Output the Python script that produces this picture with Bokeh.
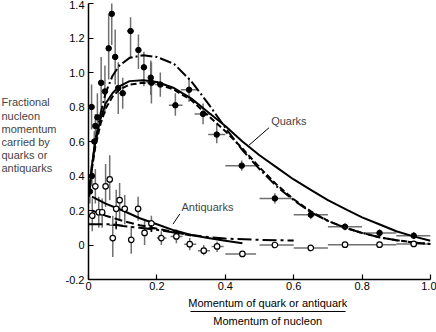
from bokeh.plotting import figure
from bokeh.models import ColumnDataSource, Label, FixedTicker, LinearAxis, Range1d
from bokeh.layouts import row
from bokeh.embed import file_html
from bokeh.resources import INLINE

# ---------------- data ----------------
x_ticks = [0, 0.2, 0.4, 0.6, 0.8, 1.0]
x_tick_labels = ["0", "0.2", "0.4", "0.6", "0.8", "1.0"]
y_ticks = [-0.2, 0, 0.2, 0.4, 0.6, 0.8, 1.0, 1.2, 1.4]
y_tick_labels = ["-0.2", "0", "0.2", "0.4", "0.6", "0.8", "1.0", "1.2", "1.4"]

# Quarks (filled points)
quark_x = [0.004, 0.010, 0.009, 0.017, 0.020, 0.026, 0.037, 0.048, 0.059, 0.068,
           0.078, 0.087, 0.100, 0.123, 0.146, 0.162, 0.182, 0.184, 0.210, 0.254,
           0.294, 0.335, 0.375, 0.448, 0.545, 0.650, 0.750, 0.851, 0.951]
quark_y = [0.31, 0.40, 0.80, 0.60, 0.69, 0.74, 0.94, 0.89, 1.14, 1.34,
           1.09, 0.91, 0.88, 1.24, 1.13, 1.03, 0.97, 0.94, 0.93, 0.81,
           0.90, 0.76, 0.64, 0.46, 0.27, 0.175, 0.106, 0.070, 0.054]
quark_ylo = [0.24, 0.34, 0.67, 0.54, 0.62, 0.62, 0.78, 0.76, 0.96, 1.16,
             0.93, 0.76, 0.79, 1.08, 1.02, 0.92, 0.87, 0.82, 0.86, 0.75,
             0.83, 0.70, 0.59, 0.43, 0.24, 0.15, 0.085, 0.05, 0.035]
quark_yhi = [0.38, 0.46, 0.93, 0.66, 0.76, 0.88, 1.09, 1.04, 1.34, 1.46,
             1.25, 1.06, 0.97, 1.32, 1.22, 1.12, 1.07, 1.06, 1.00, 0.88,
             0.97, 0.82, 0.70, 0.49, 0.30, 0.20, 0.125, 0.09, 0.075]
quark_xlo = [0.004, 0.010, 0.009, 0.017, 0.020, 0.026, 0.037, 0.048, 0.059, 0.068,
             0.078, 0.087, 0.090, 0.113, 0.146, 0.162, 0.182, 0.170, 0.195, 0.235,
             0.270, 0.310, 0.350, 0.400, 0.500, 0.600, 0.700, 0.800, 0.900]
quark_xhi = [0.004, 0.010, 0.009, 0.017, 0.020, 0.026, 0.037, 0.048, 0.059, 0.068,
             0.078, 0.087, 0.110, 0.133, 0.146, 0.162, 0.182, 0.198, 0.225, 0.275,
             0.320, 0.360, 0.400, 0.500, 0.600, 0.700, 0.800, 0.900, 1.000]

# Antiquarks (open points)
anti_x = [0.011, 0.020, 0.030, 0.040, 0.050, 0.062, 0.071, 0.081, 0.091, 0.106,
          0.125, 0.145, 0.164, 0.184, 0.213, 0.257, 0.296, 0.337, 0.376, 0.450,
          0.545, 0.650, 0.750, 0.851, 0.951]
anti_y = [0.17, 0.34, 0.19, 0.19, 0.34, 0.38, 0.04, 0.21, 0.26, 0.21,
          0.03, 0.21, 0.07, 0.125, 0.04, 0.05, 0.005, -0.033, -0.008, -0.052,
          0.0, -0.017, 0.002, 0.002, 0.006]
anti_ylo = [0.08, 0.24, 0.10, 0.10, 0.22, 0.26, -0.07, 0.10, 0.15, 0.12,
            -0.05, 0.14, 0.00, 0.08, 0.00, 0.01, -0.03, -0.06, -0.04, -0.06,
            -0.01, -0.03, -0.005, -0.005, 0.0]
anti_yhi = [0.27, 0.44, 0.28, 0.27, 0.47, 0.52, 0.17, 0.32, 0.36, 0.29,
            0.11, 0.28, 0.14, 0.17, 0.08, 0.09, 0.04, 0.00, 0.02, -0.044,
            0.01, -0.005, 0.01, 0.01, 0.014]
anti_xlo = [0.011, 0.020, 0.030, 0.040, 0.050, 0.062, 0.071, 0.081, 0.091, 0.106,
            0.125, 0.145, 0.164, 0.184, 0.200, 0.240, 0.280, 0.320, 0.360, 0.400,
            0.500, 0.600, 0.700, 0.800, 0.900]
anti_xhi = [0.011, 0.020, 0.030, 0.040, 0.050, 0.062, 0.071, 0.081, 0.091, 0.106,
            0.125, 0.145, 0.164, 0.184, 0.228, 0.275, 0.315, 0.355, 0.395, 0.490,
            0.600, 0.700, 0.800, 0.900, 1.000]

# Cross markers in the antiquark region
cross_x = [0.081, 0.184]
cross_y = [0.115, 0.096]
cross_xlo = [0.060, 0.170]
cross_xhi = [0.100, 0.200]
cross_ylo = [0.09, 0.075]
cross_yhi = [0.14, 0.118]

# Quark curves
qc_x = [0.0, 0.005, 0.01, 0.02, 0.035, 0.05, 0.07, 0.09, 0.12, 0.16, 0.2, 0.25,
        0.3, 0.35, 0.4, 0.45, 0.5, 0.55, 0.6, 0.65, 0.7, 0.75, 0.8, 0.85, 0.9,
        0.95, 1.0]
qc_solid = [0.28, 0.36, 0.46, 0.60, 0.73, 0.82, 0.88, 0.92, 0.95, 0.955, 0.945,
            0.91, 0.85, 0.77, 0.69, 0.60, 0.52, 0.45, 0.38, 0.32, 0.26, 0.21,
            0.16, 0.12, 0.08, 0.05, 0.025]
qc_dashed = [0.28, 0.35, 0.44, 0.57, 0.70, 0.79, 0.86, 0.90, 0.93, 0.94, 0.935,
             0.90, 0.84, 0.75, 0.66, 0.56, 0.45, 0.35, 0.265, 0.195, 0.14, 0.10,
             0.07, 0.045, 0.028, 0.015, 0.006]
qc_dashdot = [0.28, 0.36, 0.46, 0.60, 0.76, 0.88, 0.98, 1.04, 1.085, 1.10, 1.09,
              1.05, 0.95, 0.82, 0.68, 0.55, 0.44, 0.34, 0.26, 0.19, 0.14, 0.10,
              0.07, 0.045, 0.028, 0.015, 0.006]

# Antiquark curves
ac_solid_x = [0.01, 0.05, 0.1, 0.15, 0.2, 0.25, 0.3, 0.35, 0.4, 0.45]
ac_solid_y = [0.28, 0.24, 0.20, 0.155, 0.12, 0.085, 0.058, 0.04, 0.024, 0.01]
ac_dashed_x = [0.01, 0.05, 0.1, 0.15, 0.2, 0.25, 0.3]
ac_dashed_y = [0.20, 0.17, 0.14, 0.115, 0.095, 0.075, 0.055]
ac_dashdot_x = [0.0, 0.07, 0.1, 0.15, 0.2, 0.25, 0.3, 0.35, 0.4, 0.5, 0.6]
ac_dashdot_y = [0.12, 0.12, 0.11, 0.10, 0.088, 0.072, 0.058, 0.046, 0.037, 0.03, 0.026]

# Annotation pointers
quark_ptr = [(0.528, 0.68), (0.469, 0.578)]
anti_ptr = [(0.267, 0.18), (0.247, 0.121)]

left_lines = ["Fractional", "nucleon", "momentum", "carried by", "quarks or",
              "antiquarks"]
left_line_y = [0.828, 0.745, 0.670, 0.596, 0.519, 0.445]
x_label_top = "Momentum of quark or antiquark"
x_label_bottom = "Momentum of nucleon"
x_label_pos = 0.524
fraction_bounds = (0.298, 0.751)

FONT = "Liberation Sans"
W, H = 436, 332
LW = 62
TOP, BOTTOM = 3, 53

# ---------------- left text panel ----------------
left = figure(width=LW, height=H, x_range=Range1d(0, LW), y_range=Range1d(-0.2, 1.4),
              output_backend="svg", toolbar_location=None,
              min_border_left=0, min_border_right=0,
              min_border_top=TOP, min_border_bottom=BOTTOM)
left.axis.visible = False
left.grid.visible = False
left.outline_line_color = None
for t, yy in zip(left_lines, left_line_y):
    left.add_layout(Label(x=1, y=yy, text=t, text_font=FONT,
                          text_font_size="11px", text_baseline="middle"))

# ---------------- main figure ----------------
p = figure(width=W - LW, height=H, x_range=(0, 1.0), y_range=(-0.2, 1.4),
           output_backend="svg", toolbar_location=None,
           min_border_left=26, min_border_right=6, min_border_top=TOP,
           min_border_bottom=BOTTOM)
p.background_fill_color = "white"
p.border_fill_color = "white"
p.outline_line_color = None
p.grid.visible = False

for ax in (p.xaxis[0], p.yaxis[0]):
    ax.axis_line_width = 1.5
    ax.axis_line_color = "black"
    ax.major_tick_in = 5
    ax.major_tick_out = 0
    ax.minor_tick_line_color = None
    ax.major_tick_line_color = "black"
    ax.major_tick_line_width = 1.2
    ax.major_label_text_font = FONT
    ax.major_label_text_font_size = "11px"
    ax.major_label_text_color = "black"

p.xaxis.ticker = FixedTicker(ticks=x_ticks)
p.xaxis.major_label_overrides = {t: s for t, s in zip(x_ticks, x_tick_labels)}
p.xaxis.major_label_standoff = 2
p.yaxis.ticker = FixedTicker(ticks=y_ticks)
p.yaxis.major_label_overrides = {t: s for t, s in zip(y_ticks, y_tick_labels)}
p.yaxis.major_label_standoff = 4

# fraction-style axis title: upper text (no line), then line + lower text
ax_top = LinearAxis(ticker=FixedTicker(ticks=[x_label_pos]),
                    major_label_overrides={x_label_pos: x_label_top},
                    axis_line_color=None, major_tick_line_color=None,
                    major_tick_in=0, major_tick_out=0,
                    minor_tick_line_color=None, minor_tick_in=0, minor_tick_out=0,
                    major_label_standoff=4,
                    major_label_text_font=FONT, major_label_text_font_size="11px",
                    major_label_text_color="black")
ax_bot = LinearAxis(ticker=FixedTicker(ticks=[x_label_pos]), bounds=fraction_bounds,
                    major_label_overrides={x_label_pos: x_label_bottom},
                    axis_line_color="black", axis_line_width=1.2,
                    major_tick_line_color=None, major_tick_in=0, major_tick_out=0,
                    minor_tick_line_color=None, minor_tick_in=0, minor_tick_out=0,
                    major_label_standoff=3,
                    major_label_text_font=FONT, major_label_text_font_size="11px",
                    major_label_text_color="black")
p.add_layout(ax_top, "below")
p.add_layout(ax_bot, "below")

qsrc = ColumnDataSource(dict(x=quark_x, y=quark_y, ylo=quark_ylo, yhi=quark_yhi,
                             xlo=quark_xlo, xhi=quark_xhi))
asrc = ColumnDataSource(dict(x=anti_x, y=anti_y, ylo=anti_ylo, yhi=anti_yhi,
                             xlo=anti_xlo, xhi=anti_xhi))
csrc = ColumnDataSource(dict(x=cross_x, y=cross_y, ylo=cross_ylo, yhi=cross_yhi,
                             xlo=cross_xlo, xhi=cross_xhi))

ERR = "#707070"
for src in (qsrc, asrc, csrc):
    p.segment(x0="x", y0="ylo", x1="x", y1="yhi", source=src,
              line_color=ERR, line_width=1.5)
    p.segment(x0="xlo", y0="y", x1="xhi", y1="y", source=src,
              line_color=ERR, line_width=1.5)

# curves
p.line(qc_x, qc_solid, line_color="black", line_width=2)
p.line(qc_x, qc_dashed, line_color="black", line_width=2, line_dash="6 3")
p.line(qc_x, qc_dashdot, line_color="black", line_width=2, line_dash="12 3 2 3")
p.line(ac_solid_x, ac_solid_y, line_color="black", line_width=2)
p.line(ac_dashed_x, ac_dashed_y, line_color="black", line_width=2, line_dash="8 4")
p.line(ac_dashdot_x, ac_dashdot_y, line_color="black", line_width=2,
       line_dash="14 4 3 4")

# points
p.scatter(x="x", y="y", source=qsrc, size=5.5, fill_color="black",
          line_color="black")
p.scatter(x="x", y="y", source=asrc, size=5.5, fill_color="white",
          line_color="black", line_width=1.2)
p.scatter(x="x", y="y", source=csrc, marker="cross", size=7,
          line_color="black", line_width=1.5)

# pointers + labels
p.segment(x0=[quark_ptr[0][0]], y0=[quark_ptr[0][1]], x1=[quark_ptr[1][0]],
          y1=[quark_ptr[1][1]], line_color="black", line_width=1)
p.segment(x0=[anti_ptr[0][0]], y0=[anti_ptr[0][1]], x1=[anti_ptr[1][0]],
          y1=[anti_ptr[1][1]], line_color="black", line_width=1)

p.add_layout(Label(x=0.534, y=0.716, text="Quarks", text_font=FONT,
                   text_font_size="11px", text_baseline="middle"))
p.add_layout(Label(x=0.272, y=0.223, text="Antiquarks", text_font=FONT,
                   text_font_size="11px", text_baseline="middle"))

layout = row(left, p, spacing=0)
open("out.html", "w").write(file_html(layout, INLINE))
